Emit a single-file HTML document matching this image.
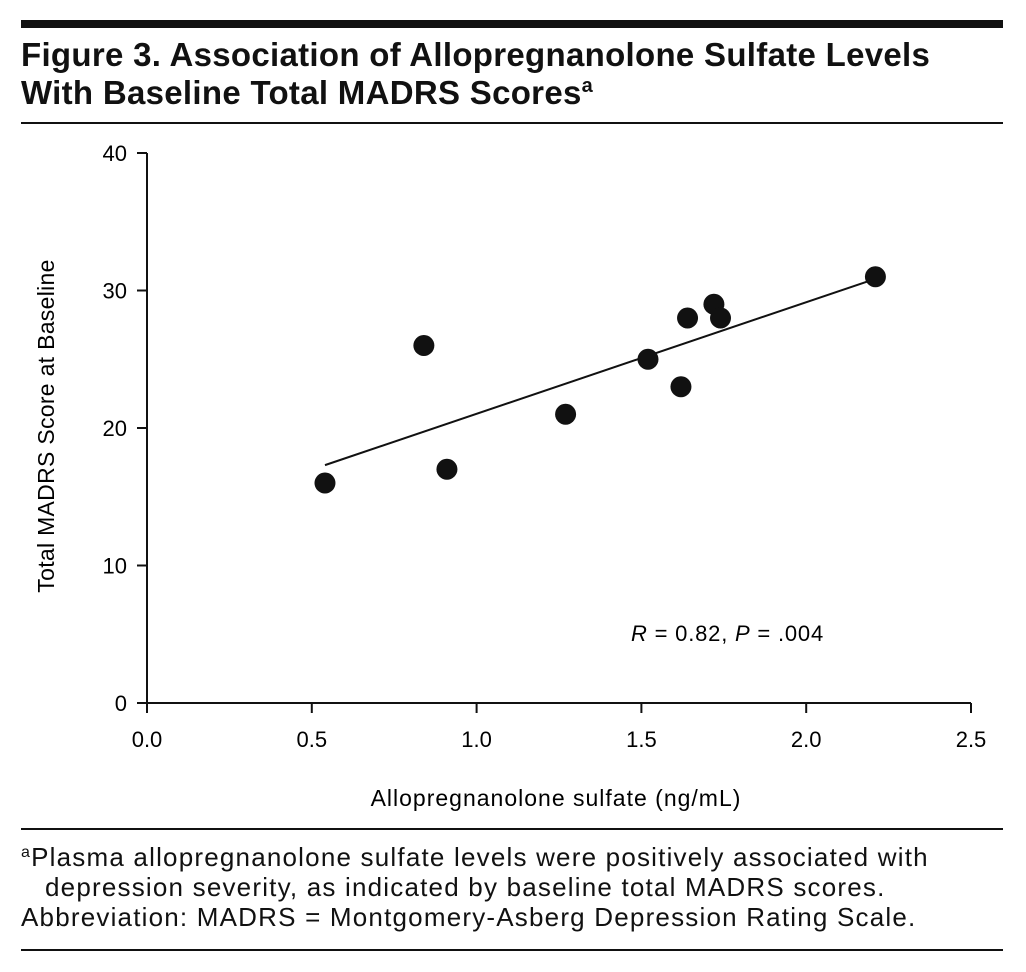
<!DOCTYPE html>
<html><head><meta charset="utf-8">
<style>
html,body{margin:0;padding:0;background:#fff;}
body{width:1026px;height:972px;position:relative;overflow:hidden;font-family:"Liberation Sans",sans-serif;color:#111;}
.abs{position:absolute;}
</style></head>
<body>
<div class="abs" style="left:21px;top:20px;width:982px;height:8px;background:#111;"></div>
<div class="abs" style="left:21px;top:36px;width:1000px;font-weight:bold;font-size:33px;line-height:38px;letter-spacing:0.3px;">Figure 3. Association of Allopregnanolone Sulfate Levels<br>With Baseline Total MADRS Scores<sup style="font-size:20px;vertical-align:12px;line-height:0">a</sup></div>
<div class="abs" style="left:21px;top:122px;width:982px;height:2px;background:#111;"></div>
<svg class="abs" style="left:0;top:0" width="1026" height="972">
<g id="axes"></g><g id="marks"></g>
<text x="631" y="641" font-size="22" letter-spacing="0.8" font-family="Liberation Sans, sans-serif"><tspan font-style="italic">R</tspan> = 0.82, <tspan font-style="italic">P</tspan> = .004</text>
<text x="556" y="806" font-size="23" letter-spacing="1" text-anchor="middle" font-family="Liberation Sans, sans-serif">Allopregnanolone sulfate (ng/mL)</text>
<text transform="translate(54,426) rotate(-90)" font-size="23" letter-spacing="0.3" text-anchor="middle" font-family="Liberation Sans, sans-serif">Total MADRS Score at Baseline</text>
</svg>
<div class="abs" style="left:21px;top:828px;width:982px;height:2px;background:#111;"></div>
<div class="abs" style="left:21px;top:842px;width:1000px;font-size:26px;line-height:30px;letter-spacing:1.2px;white-space:nowrap;">
<div><sup style="font-size:16px;vertical-align:9px;line-height:0">a</sup>Plasma allopregnanolone sulfate levels were positively associated with</div>
<div style="padding-left:24px">depression severity, as indicated by baseline total MADRS scores.</div>
<div>Abbreviation: MADRS = Montgomery-Asberg Depression Rating Scale.</div>
</div>
<div class="abs" style="left:21px;top:949px;width:982px;height:2px;background:#111;"></div>
<script>
const xValues=[0.54,0.84,0.91,1.27,1.52,1.62,1.64,1.72,1.74,2.21];
const yValues=[16,26,17,21,25,23,28,29,28,31];
const xTicks=[0,0.5,1,1.5,2,2.5];
const xTickLabels=["0.0","0.5","1.0","1.5","2.0","2.5"];
const yTicks=[0,10,20,30,40];
const fitLine=[[0.54,17.3],[2.21,30.85]];
const NS="http://www.w3.org/2000/svg";
const X=v=>147+v*(971-147)/2.5;
const Y=v=>703-v*(703-153)/40;
function mk(tag,attrs,parent){const e=document.createElementNS(NS,tag);for(const k in attrs)e.setAttribute(k,attrs[k]);parent.appendChild(e);return e;}
const axes=document.getElementById('axes'),marks=document.getElementById('marks');
let e=mk('line',{x1:X(0),y1:Y(0),x2:X(2.5),y2:Y(0),stroke:'#111','stroke-width':2},axes);


e=mk('line',{x1:X(0),y1:Y(0),x2:X(0),y2:Y(40),stroke:'#111','stroke-width':2},axes);


xTicks.forEach((t,i)=>{
 mk('line',{x1:X(t),y1:Y(0),x2:X(t),y2:Y(0)+10,stroke:'#111','stroke-width':2},axes);
 const tx=mk('text',{x:X(t),y:Y(0)+44,'font-size':22,'text-anchor':'middle','font-family':'Liberation Sans, sans-serif'},axes);
 tx.textContent=xTickLabels[i];
 
 
});
yTicks.forEach(t=>{
 mk('line',{x1:X(0)-10,y1:Y(t),x2:X(0),y2:Y(t),stroke:'#111','stroke-width':2},axes);
 const tx=mk('text',{x:X(0)-20,y:Y(t)+8,'font-size':22,'text-anchor':'end','font-family':'Liberation Sans, sans-serif'},axes);
 tx.textContent=String(t);
 
 
});
e=mk('line',{x1:X(fitLine[0][0]),y1:Y(fitLine[0][1]),x2:X(fitLine[1][0]),y2:Y(fitLine[1][1]),stroke:'#111','stroke-width':2},marks);


xValues.forEach((v,i)=>{
 const c=mk('circle',{cx:X(v),cy:Y(yValues[i]),r:10.5,fill:'#111'},marks);
 
 
});
</script>
</body></html>
